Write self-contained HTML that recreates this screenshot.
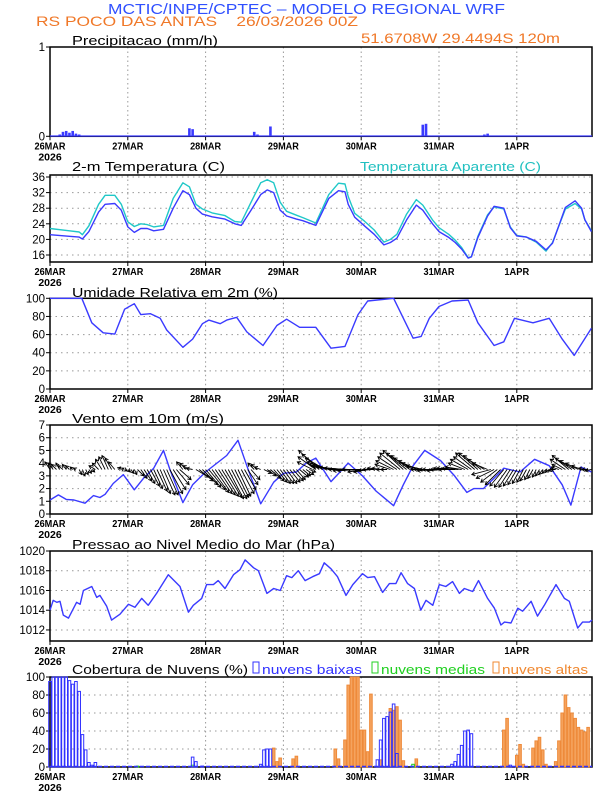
<!DOCTYPE html>
<html><head><meta charset="utf-8"><style>
html,body{margin:0;padding:0;background:#fff}
svg{display:block}
text{font-family:"Liberation Sans",sans-serif}
.tl{font-size:13px;fill:#000}
.tk{font-size:10.5px;font-weight:bold;fill:#000}
</style></head><body>
<svg id="chart" width="612" height="792" viewBox="0 0 612 792" xmlns="http://www.w3.org/2000/svg">
<text x="108" y="14" font-size="15" fill="#3050ff" textLength="397" lengthAdjust="spacingAndGlyphs">MCTIC/INPE/CPTEC – MODELO REGIONAL WRF</text>
<text x="36" y="26" font-size="14" fill="#f07828" xml:space="preserve" textLength="322" lengthAdjust="spacingAndGlyphs">RS POCO DAS ANTAS    26/03/2026 00Z</text>
<text x="361" y="43" font-size="14" fill="#f07828" textLength="199" lengthAdjust="spacingAndGlyphs">51.6708W 29.4494S 120m</text>
<text class="tl" x="72" y="45" textLength="146" lengthAdjust="spacingAndGlyphs">Precipitacao (mm/h)</text>
<text class="tl" x="72" y="171" textLength="153" lengthAdjust="spacingAndGlyphs">2-m Temperatura (C)</text>
<text x="360" y="171" font-size="13" fill="#20c0c0" textLength="181" lengthAdjust="spacingAndGlyphs">Temperatura Aparente (C)</text>
<text class="tl" x="72" y="297" textLength="206" lengthAdjust="spacingAndGlyphs">Umidade Relativa em 2m (%)</text>
<text class="tl" x="72" y="423" textLength="152" lengthAdjust="spacingAndGlyphs">Vento em 10m (m/s)</text>
<text class="tl" x="72" y="549" textLength="263" lengthAdjust="spacingAndGlyphs">Pressao ao Nivel Medio do Mar (hPa)</text>
<text class="tl" x="72" y="674" textLength="176" lengthAdjust="spacingAndGlyphs">Cobertura de Nuvens (%)</text>
<g font-size="13">
<rect x="253" y="662" width="6" height="11" fill="none" stroke="#3030ff"/>
<text x="262" y="674" fill="#3030ff" textLength="100" lengthAdjust="spacingAndGlyphs">nuvens baixas</text>
<rect x="372" y="662" width="6" height="11" fill="none" stroke="#20d020"/>
<text x="381" y="674" fill="#20d020" textLength="104" lengthAdjust="spacingAndGlyphs">nuvens medias</text>
<rect x="493" y="662" width="6" height="11" fill="none" stroke="#f08830"/>
<text x="502" y="674" fill="#f08830" textLength="86" lengthAdjust="spacingAndGlyphs">nuvens altas</text>
</g>
</svg>
<script>
const precipHours=[3,4,5,6,7,8,9,43,44,63,64,68,115,116,134,135];
const precipVals=[0.02,0.05,0.06,0.04,0.06,0.03,0.02,0.09,0.08,0.05,0.02,0.11,0.13,0.14,0.02,0.03];
const tempHours=[0,6,9,10,12,15,17,20,22,24,26,28,30,32,35,38,41,43,45,47,50,54,57,59,62,65,67,69,71,73,76,78,82,86,89,91,92,94,97,100,103,105,107,110,113,115,118,120,123,125,127,129,130,132,135,137,140,142,144,147,150,153,155,159,162,164,165,167];
const tempVals=[21.2,20.8,20.6,20.1,22,27,29,29.2,27.5,23.2,21.8,22.8,22.8,22.2,22.6,28,32.5,31.5,28,26.5,25.8,25.2,24,23.6,27.5,31.5,32.7,32,27.5,26,25.2,24.8,23.6,30.5,32.5,32.2,29,25.7,23.5,21.3,18.6,19.2,20.3,25,28.8,27.5,24,22,20.5,19.2,17.5,15.2,15.5,20.5,26,28.5,28,23,20.9,20.6,19.5,17.3,19,28.2,29.9,28,25,22];
const appTempVals=[22.8,22.2,21.9,21.2,23.5,29,31.3,31.3,29,24.5,23.3,24,23.8,23.2,23.6,30.5,34.5,33.5,29,27.8,26.8,26.1,24.6,24.4,29.5,34.5,35.3,34.5,29.5,27.2,26.2,25.6,24.2,31.5,34.4,34.2,31,26.7,24.7,22.4,19.3,20,21.3,26.5,30.2,28.8,25,23,21.3,19.8,17.9,15.3,15.6,20.8,26.3,28.3,27.8,23.2,21,20.6,19.3,17,19.2,27.8,29.2,27.8,25,22.2];
const rhHours=[0,9.8,12.9,16.4,20,23,26,28,31,34,36,41,44,47,49,52.5,54.5,57.6,60.7,65.7,70,73,77,82,86.7,91,95,98,106,112,114.5,117,120,124,129,132,137,140,143.3,149,154,158,161.7,167];
const rhVals=[100,100,73,62,60.5,88,94,82,83,78,65,46,55,72,76,72,76,79,63,48,70,77,68,68,45,47,82,97,100,56,58,78,91,97,98,73,48,52,78,73,78,55,37,67];
const windHours=[0,2.6,5,7.4,10.8,13.4,15.4,17,19.5,22.6,26,28.8,32,35,37,41,44,48,54.5,58,61,65,69,72,76,79,82,86.7,92,96.4,100.6,106,109,112,115.6,120.5,124.8,128.6,130.7,133.7,137.7,140,145,149.5,154,158,160.7,163.8,167];
const windSpeed=[1.1,1.5,1.15,1.1,0.85,1.45,1.3,1.55,2.4,3.1,1.9,2.8,3.6,5.0,3.5,0.9,2.3,3.3,4.6,5.8,3.6,0.8,2.5,3.2,3.3,4.0,4.4,2.55,4.0,3.0,1.8,0.65,2.3,3.8,5.0,4.2,3.0,1.7,2.0,2.0,3.0,3.6,3.3,4.3,3.8,2.3,0.7,3.7,3.3];
const windU=[-0.4,-0.4,-0.4,-0.3,-0.4,-0.3,-0.3,-0.2,-0.2,0.2,0.2,0.2,0.2,0.2,-0.5,-0.5,-0.5,-0.5,-0.5,-0.5,-0.5,0.2,0.2,0.2,0.2,0.2,0.2,
0.5,0.5,0.6,0.6,0.7,0.7,0.8,0.8,0.9,0.9,1.0,1.0,1.0,0.9,-0.5,-0.5,-0.5,-0.5,
1.0,1.1,1.2,1.2,1.3,1.3,1.3,1.3,1.3,1.3,1.2,1.2,1.1,1.0,1.0,0.9,0.8,0.7,-0.5,-0.5,-0.5,
0.6,0.7,0.8,0.8,0.8,0.8,0.8,0.8,0.8,0.8,0.7,0.7,0.6,0.6,0.5,
-1.2,-1.4,-1.6,-1.6,-1.6,-1.7,-1.8,-1.9,-2.0,-2.0,-2.0,-1.9,-1.8,-1.7,-1.6,-1.5,-1.3,-1.1,-1.0,-0.9,-0.8,-0.7,-0.6,-0.5,
-1.2,-1.4,-1.5,-1.6,-1.6,-1.6,-1.5,-1.5,-1.4,-1.4,-1.3,
-1.2,-1.2,-1.2,-1.3,-1.3,-1.2,-1.2,-1.2,-1.2,-1.3,-1.3,-1.3,
-1.3,-1.4,-1.4,-1.5,-1.5,-1.4,-1.3,-1.2,
-1.5,-1.4,-1.3,-1.2,-1.1,-1.0,-0.9,-0.8,-0.7,-0.6,-0.5,-0.5,-0.4,-0.4,-0.3,
-0.3,-0.3,-0.3,-0.3,-0.3,-0.4,-0.6,-0.8,
-1.2,-1.3,-1.3,-1.2,-1.0,-0.8,-0.5,-0.5,-0.5];
const windV=[0.6,0.5,0.4,0.5,0.3,0.4,0.3,0.2,0.1,-0.4,-0.5,-0.4,-0.3,-0.2,0.3,0.5,0.8,1.0,1.1,0.9,0.6,0.2,0.1,-0.1,-0.2,-0.3,-0.4,
-0.5,-0.7,-0.9,-1.1,-1.3,-1.5,-1.7,-1.9,-2.0,-2.0,-1.9,-1.6,-1.2,-0.8,0.6,0.5,0.3,0.1,
-0.6,-0.9,-1.2,-1.4,-1.6,-1.8,-1.9,-2.0,-2.1,-2.2,-2.3,-2.3,-2.2,-2.1,-1.9,-1.6,-1.2,-0.8,0.5,0.4,0.2,
-0.3,-0.5,-0.7,-0.9,-1.0,-1.1,-1.1,-1.1,-1.0,-0.9,-0.8,-0.6,-0.5,-0.4,-0.2,
0.6,1.0,1.5,1.2,0.9,0.6,0.4,0.3,0.2,0.2,0.15,0.1,0,-0.1,-0.1,0,-0.2,-0.2,-0.1,0,0.1,0.1,0,0,
0.4,0.7,1.0,1.3,1.5,1.3,1.1,0.9,0.7,0.5,0.3,
0,0,-0.1,0,0,-0.1,0,0.1,0.1,0,0.1,0.2,
0.5,0.8,1.0,1.3,1.3,1.1,0.8,0.5,
-0.4,-0.7,-1.0,-1.2,-1.3,-1.4,-1.4,-1.3,-1.2,-1.1,-1.0,-0.9,-0.8,-0.7,-0.6,
-0.5,-0.4,-0.3,-0.2,-0.1,0,0.2,0.4,
0.8,1.1,0.9,0.7,0.5,0.3,0.1,0,-0.1];
const presHours=[0,1,2.1,3.1,4.1,5.7,8.2,9.3,10.3,12.9,14.4,15.4,17.5,19,21.6,24.2,26.2,28.3,30.3,32.9,36.5,40.1,42.7,44.2,46.8,48.3,50.4,51.9,54,56.6,58.6,60.2,62.8,64.3,66.9,69,71,73,74.6,76.6,78.7,81,83.1,84.6,86.7,88.7,91.3,93.4,96.4,98,100.1,102.6,104.7,106.7,108.3,110.3,112.4,114.4,116,118.1,120.1,122.1,124.2,126.3,127.8,130.4,132.2,135,137.1,139.1,140.2,142.2,144.3,145.8,148.4,150.4,152.5,156.1,158.7,160.2,162.8,164.3,166.4,167.2];
const presVals=[1014,1015,1014.8,1014.9,1013.5,1013.2,1014.8,1014.6,1016,1016.4,1015.3,1015.5,1014.4,1013,1013.6,1014.6,1014.3,1015.2,1014.5,1015.7,1017.6,1016.4,1013.8,1014.5,1015.2,1016.6,1016.6,1017,1016.2,1017.6,1018.1,1019.1,1018.3,1018,1015.7,1016.2,1016,1017.5,1017.3,1018,1017,1017.4,1017.7,1018.8,1018.2,1017.4,1015.5,1016.6,1017.7,1017.3,1017.4,1015.8,1016.7,1016.7,1017.8,1016.7,1016.2,1014,1015,1014.5,1016.6,1016.4,1016.9,1015.7,1016.2,1015.9,1017,1015.2,1014.2,1012.5,1012.8,1012.7,1014.2,1013.9,1014.9,1013.4,1014.5,1016.6,1015.2,1014.9,1012.2,1012.8,1012.8,1013];
const lowHours=[0,1,2,3,4,5,6,7,8,9,10,11,12,13,14,44,45,47,65,66,67,68,101,102,103,104,105,106,107,124,125,126,127,128,129,130,142];
const lowVals=[95,100,100,100,100,100,96,92,95,84,36,19,5,2,5,11,6,1,3,19,20,20,8,30,54,56,61,70,15,3,6,14,24,40,41,37,2];
const midHours=[27,44,112];
const midVals=[1,2,3];
const highHours=[69,70,71,75,76,88,89,91,92,93,94,95,96,97,98,99,102,105,106,107,108,109,113,140,141,144,145,146,149,150,151,152,153,156,157,158,159,160,161,162,163,164,165,166];
const highVals=[21,6,10,9,12,20,9,30,91,100,100,100,41,41,17,81,8,65,63,67,52,7,9,41,54,13,25,3,21,29,33,19,3,6,29,60,80,66,60,54,44,41,39,44];
const dayLabels=['26MAR','27MAR','28MAR','29MAR','30MAR','31MAR','1APR'];
const precipTicks=[0,1];
const tempTicks=[16,20,24,28,32,36];
const rhTicks=[0,20,40,60,80,100];
const windTicks=[0,1,2,3,4,5,6,7];
const presTicks=[1012,1014,1016,1018,1020];
const cloudTicks=[0,20,40,60,80,100];

const NS='http://www.w3.org/2000/svg';
const svg=document.getElementById('chart');
const X0=50,X1=592,HMAX=167.2;
function xs(h){return X0+h*(X1-X0)/HMAX;}
function mk(tag,attrs,parent){const e=document.createElementNS(NS,tag);for(const k in attrs)e.setAttribute(k,attrs[k]);(parent||svg).appendChild(e);return e;}
function yScale(top,bot,vTop,vBot){return v=>bot-(v-vBot)*(bot-top)/(vTop-vBot);}
const BLUE='#3a3aff';

function panel(name,top,bot,ys,ticks){
  const g=mk('g',{});
  
  
  for(let d=1;d<7;d++){
    const l=mk('line',{x1:xs(d*24),x2:xs(d*24),y1:top,y2:bot,stroke:'#999','stroke-dasharray':'1.5,3','stroke-width':1},g);
    
    
  }
  ticks.forEach(t=>{
    const y=ys(t);
    if(y>top+1&&y<bot-1){
      const l=mk('line',{x1:X0,x2:X1,y1:y,y2:y,stroke:'#999','stroke-dasharray':'1.5,4','stroke-width':1},g);
      
      
    }
    const tm=mk('line',{x1:X0-4,x2:X0,y1:y,y2:y,stroke:'#000'},g);
    
    
    const tx=mk('text',{x:X0-5,y:y+4,'text-anchor':'end','font-size':'11.5'},g);
    
    
    tx.textContent=t;
  });
  const r=mk('rect',{x:X0,y:top,width:X1-X0,height:bot-top,fill:'none',stroke:'#000','stroke-width':1.5},g);
  
  
  dayLabels.forEach((lb,i)=>{
    const tm=mk('line',{x1:xs(i*24),x2:xs(i*24),y1:bot,y2:bot+4,stroke:'#000'},g);
    
    
    const t=mk('text',{class:'tk',x:xs(i*24),y:bot+13,'text-anchor':'middle',textLength:lb.length*6.2,lengthAdjust:'spacingAndGlyphs'},g);
    
    
    t.textContent=lb;
  });
  const yr=mk('text',{class:'tk',x:xs(0),y:bot+24,'text-anchor':'middle'},g);
  
  
  yr.textContent='2026';
  return g;
}
function line(hours,vals,ys,color,name,w){
  const d=hours.map((h,i)=>(i?'L':'M')+xs(h).toFixed(1)+','+ys(vals[i]).toFixed(1)).join('');
  const p=mk('path',{d:d,fill:'none',stroke:color,'stroke-width':w||1.4,'stroke-linejoin':'round'});
  
  
}
function bars(hours,vals,ys,base,fill,stroke,name,w){
  hours.forEach((h,i)=>{
    const x=xs(h)-w/2, y=ys(vals[i]);
    const r=mk('rect',{x:x,y:y,width:w,height:Math.max(0.5,base-y),fill:fill,stroke:stroke,'stroke-width':1});
    
    
  });
}
// Precip
const yP=yScale(47,136.3,1,0);
panel('precip',47,136.3,yP,precipTicks);
const pb=mk('line',{x1:X0,x2:X1,y1:136,y2:136,stroke:BLUE,'stroke-width':1.2});


bars(precipHours,precipVals,yP,136.3,BLUE,'none','precip-bar',2.6);
// Temp
const yT=v=>177+(36-v)*3.9;
panel('temp',175,262,yT,tempTicks);
line(tempHours,appTempVals,yT,'#20c8c8','apparent-temp-line');
line(tempHours,tempVals,yT,BLUE,'temp-line');
// RH
const yR=yScale(298.3,389,100,0);
panel('rh',298.3,389,yR,rhTicks);
line(rhHours,rhVals,yR,BLUE,'rh-line');
// Wind
const yW=yScale(425,514,7,0);
panel('wind',425,514,yW,windTicks);
line(windHours,windSpeed,yW,BLUE,'wind-speed-line');
const K=12.7, by=yW(3.5);
windU.forEach((u,h)=>{
  const x=xs(h), tx=x+u*K, ty=by-windV[h]*K;
  const len=Math.hypot(tx-x,ty-by); if(len<0.5)return;
  const ux=(tx-x)/len, uy=(ty-by)/len, a=3.2;
  const d=`M${x.toFixed(1)},${by.toFixed(1)}L${tx.toFixed(1)},${ty.toFixed(1)}M${(tx-a*ux+a*0.6*uy).toFixed(1)},${(ty-a*uy-a*0.6*ux).toFixed(1)}L${tx.toFixed(1)},${ty.toFixed(1)}L${(tx-a*ux-a*0.6*uy).toFixed(1)},${(ty-a*uy+a*0.6*ux).toFixed(1)}`;
  const p=mk('path',{d:d,fill:'none',stroke:'#000','stroke-width':0.9});
  
  
});
// Pressure
const yPr=yScale(551,641,1020,1010.88);
panel('pressure',551,641,yPr,presTicks);
line(presHours,presVals,yPr,BLUE,'pressure-line');
// Clouds
const yC=yScale(677,767,100,0);
panel('cloud',677,767,yC,cloudTicks);
bars(highHours,highVals,yC,767,'#f5a35e','#ee8a3a','high-cloud-bar',2.6);
bars(midHours,midVals,yC,767,'none','#20d020','mid-cloud-bar',2.6);
bars(lowHours,lowVals,yC,767,'none','#3030ff','low-cloud-bar',2.6);
const cb=mk('line',{x1:X0,x2:X1,y1:766.5,y2:766.5,stroke:'#3030ff','stroke-width':1.5,'stroke-dasharray':'4,2'});


</script>
</body></html>
